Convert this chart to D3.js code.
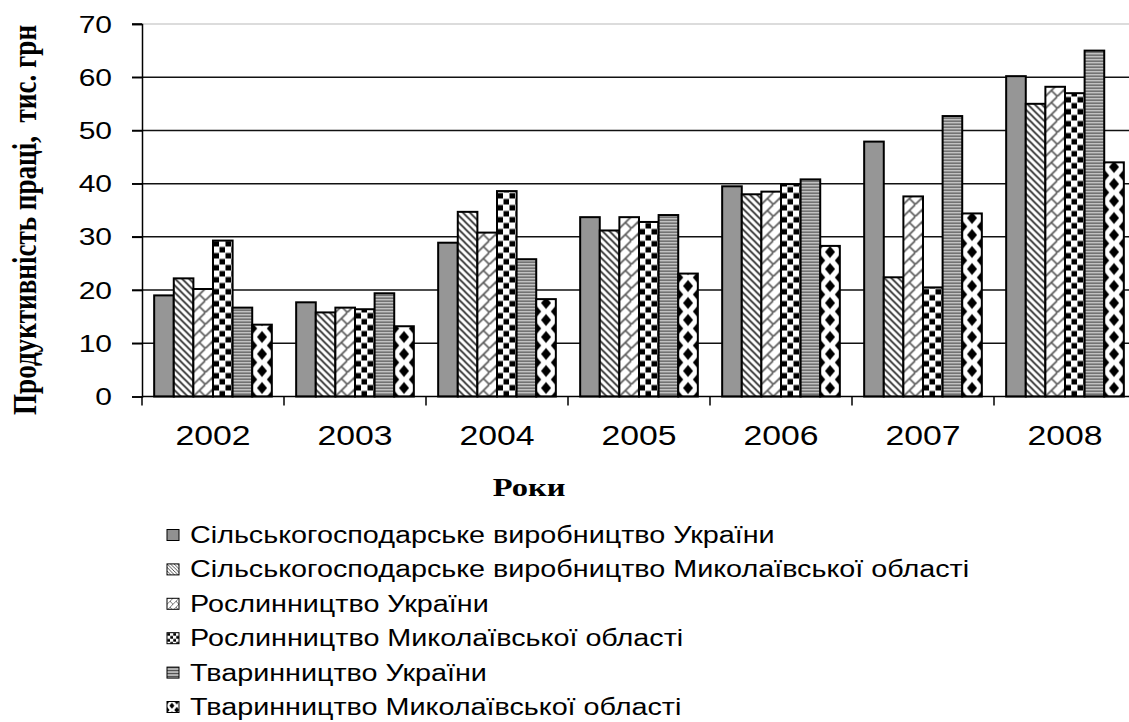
<!DOCTYPE html>
<html>
<head>
<meta charset="utf-8">
<script src="https://cdn.jsdelivr.net/npm/d3@7"></script>
<style>
  body { margin: 0; background: #fff; }
  svg { display: block; font-family: "Liberation Sans", Arial, sans-serif; }
  .serif { font-family: "Liberation Serif", "Times New Roman", serif; font-weight: bold; }
</style>
</head>
<body>
<svg width="1129" height="722"></svg>
<script>
/*****************************************
*   Data
*****************************************/

const years = ['2002', '2003', '2004', '2005', '2006', '2007', '2008'];

const seriesNames = [
    'Сільськогосподарське виробництво України',
    'Сільськогосподарське виробництво Миколаївської області',
    'Рослинництво України',
    'Рослинництво Миколаївської області',
    'Тваринництво України',
    'Тваринництво Миколаївської області'
];

const agroUkraine   = [19.0, 17.7, 28.9, 33.7, 39.5, 47.9, 60.2];
const agroMykolaiv  = [22.2, 15.8, 34.7, 31.2, 38.0, 22.4, 55.0];
const cropUkraine   = [20.2, 16.7, 30.8, 33.7, 38.5, 37.6, 58.2];
const cropMykolaiv  = [29.3, 16.4, 38.6, 32.8, 39.9, 20.5, 57.0];
const stockUkraine  = [16.7, 19.4, 25.8, 34.1, 40.8, 52.7, 65.0];
const stockMykolaiv = [13.5, 13.2, 18.3, 23.1, 28.3, 34.4, 44.0];

const seriesValues = [agroUkraine, agroMykolaiv, cropUkraine, cropMykolaiv, stockUkraine, stockMykolaiv];

const yTicks = [0, 10, 20, 30, 40, 50, 60, 70];

/*****************************************
*   Layout
*****************************************/

const PLOT_LEFT = 142;
const PLOT_RIGHT = 1136;
const PLOT_TOP = 24;
const PLOT_BOTTOM = 396.5;
const STRETCH = 1.25;   // the picture is wider than tall, text too

const svg = d3.select('svg');

var xScale = d3.scaleBand()
    .domain(years)
    .range([PLOT_LEFT, PLOT_RIGHT])
    .padding(0);

var xInner = d3.scaleBand()
    .domain(d3.range(seriesNames.length))
    .range([0, xScale.bandwidth()])
    .paddingInner(0)
    .paddingOuter(0.62);

var yScale = d3.scaleLinear()
    .domain([0, 70])
    .range([PLOT_BOTTOM, PLOT_TOP]);

/*****************************************
*   Hatch patterns
*****************************************/

function build_patterns() {
    var defs = svg.append('defs');

    // 0: fine dark dither
    var p0 = defs.append('pattern').attr('id', 'pat0')
        .attr('patternUnits', 'userSpaceOnUse').attr('width', 2).attr('height', 2);
    p0.append('rect').attr('width', 2).attr('height', 2).attr('fill', '#6e6e6e');
    p0.append('rect').attr('width', 1).attr('height', 1).attr('fill', '#bdbdbd');
    p0.append('rect').attr('x', 1).attr('y', 1).attr('width', 1).attr('height', 1).attr('fill', '#bdbdbd');

    // 1: downward diagonal lines
    var p1 = defs.append('pattern').attr('id', 'pat1')
        .attr('patternUnits', 'userSpaceOnUse').attr('width', 7).attr('height', 7);
    p1.append('rect').attr('width', 7).attr('height', 7).attr('fill', '#fff');
    p1.append('path').attr('d', 'M-2,-2 L9,9 M-2,5 L2,9 M5,-2 L9,2')
        .attr('stroke', '#222').attr('stroke-width', 1.6);

    // 2: diagonal brick
    var p2 = defs.append('pattern').attr('id', 'pat2')
        .attr('patternUnits', 'userSpaceOnUse').attr('width', 12).attr('height', 12);
    p2.append('rect').attr('width', 12).attr('height', 12).attr('fill', '#fff');
    p2.append('path').attr('d', 'M-1,13 L13,-1 M6,6 L12,12')
        .attr('stroke', '#555').attr('stroke-width', 1.6).attr('fill', 'none');

    // 3: checkerboard
    var p3 = defs.append('pattern').attr('id', 'pat3')
        .attr('patternUnits', 'userSpaceOnUse').attr('width', 12).attr('height', 12);
    p3.append('rect').attr('width', 12).attr('height', 12).attr('fill', '#fff');
    p3.append('rect').attr('x', 0.5).attr('y', 0.5).attr('width', 5.5).attr('height', 5.5).attr('fill', '#000');
    p3.append('rect').attr('x', 6.5).attr('y', 6.5).attr('width', 5.5).attr('height', 5.5).attr('fill', '#000');

    // 4: horizontal lines
    var p4 = defs.append('pattern').attr('id', 'pat4')
        .attr('patternUnits', 'userSpaceOnUse').attr('width', 4).attr('height', 3);
    p4.append('rect').attr('width', 4).attr('height', 3).attr('fill', '#e0e0e0');
    p4.append('rect').attr('width', 4).attr('height', 1.4).attr('fill', '#444');

    // 5: diamonds
    var w = xInner.bandwidth(), h = 17;
    var p5 = defs.append('pattern').attr('id', 'pat5')
        .attr('patternUnits', 'userSpaceOnUse').attr('width', w).attr('height', h);
    p5.append('rect').attr('width', w).attr('height', h).attr('fill', '#fff');
    var dx = 5, dy = 6;
    [[w / 2, h / 2], [0, 0], [w, 0], [0, h], [w, h]].forEach(function(c) {
        p5.append('path')
            .attr('d', 'M' + (c[0] - dx) + ',' + c[1] + ' L' + c[0] + ',' + (c[1] - dy) +
                       ' L' + (c[0] + dx) + ',' + c[1] + ' L' + c[0] + ',' + (c[1] + dy) + 'Z')
            .attr('fill', '#000');
    });
}

/*****************************************
*   Grid and axes
*****************************************/

function draw_grid() {
    svg.append('g')
        .selectAll('line')
        .data(yTicks.filter(d => d > 0))
        .enter()
          .append('line')
          .attr('x1', PLOT_LEFT - 10)
          .attr('x2', PLOT_RIGHT)
          .attr('y1', d => yScale(d))
          .attr('y2', d => yScale(d))
          .attr('stroke', d => d == 70 ? '#d0d0d0' : '#111')
          .attr('stroke-width', 1.5);
    // keep the left tick of the top line dark
    svg.append('line')
        .attr('x1', PLOT_LEFT - 10).attr('x2', PLOT_LEFT)
        .attr('y1', yScale(70)).attr('y2', yScale(70))
        .attr('stroke', '#111').attr('stroke-width', 1.5);
}

function draw_axes() {
    var yAxis = d3.axisLeft(yScale)
        .tickValues(yTicks)
        .tickSize(10)
        .tickFormat('');
    svg.append('g')
        .attr('transform', 'translate(' + PLOT_LEFT + ',0)')
        .call(yAxis)
        .call(g => g.selectAll('line, path').attr('stroke', '#000').attr('stroke-width', 1.5));

    svg.append('g')
        .selectAll('text')
        .data(yTicks)
        .enter()
          .append('text')
          .attr('transform', d => 'translate(112,' + (yScale(d) + 8.5) + ') scale(' + STRETCH + ',1)')
          .attr('text-anchor', 'end')
          .attr('font-size', 24)
          .text(d => d);

    // x axis line and category separators
    svg.append('line')
        .attr('x1', PLOT_LEFT).attr('x2', PLOT_RIGHT)
        .attr('y1', PLOT_BOTTOM).attr('y2', PLOT_BOTTOM)
        .attr('stroke', '#000').attr('stroke-width', 1.5);
    svg.append('g')
        .selectAll('line')
        .data(years)
        .enter()
          .append('line')
          .attr('x1', d => xScale(d)).attr('x2', d => xScale(d))
          .attr('y1', PLOT_BOTTOM).attr('y2', PLOT_BOTTOM + 9)
          .attr('stroke', '#000').attr('stroke-width', 1.5);

    svg.append('g')
        .selectAll('text')
        .data(years)
        .enter()
          .append('text')
          .attr('transform', d => 'translate(' + (xScale(d) + xScale.bandwidth() / 2) + ',445) scale(' + STRETCH + ',1)')
          .attr('text-anchor', 'middle')
          .attr('font-size', 27)
          .text(d => d);
}

function add_labels() {
    svg.append('text')
        .attr('class', 'serif')
        .attr('transform', 'translate(529,496) scale(' + STRETCH + ',1)')
        .attr('text-anchor', 'middle')
        .attr('font-size', 26)
        .text('Роки');

    svg.append('text')
        .attr('class', 'serif')
        .attr('transform', 'translate(36,220) scale(' + STRETCH + ',1) rotate(-90)')
        .attr('text-anchor', 'middle')
        .attr('font-size', 27)
        .attr('textLength', 390)
        .attr('lengthAdjust', 'spacingAndGlyphs')
        .text('Продуктивність праці,\u00a0 тис. грн');
}

/*****************************************
*   Bars
*****************************************/

function draw_bars() {
    var rows = [];
    seriesValues.forEach(function(vals, s) {
        vals.forEach(function(v, i) {
            rows.push({year: years[i], series: s, value: v});
        });
    });

    // each bar lives in its own group so the hatch starts at its left edge
    svg.append('g')
        .selectAll('g')
        .data(rows)
        .enter()
          .append('g')
          .attr('transform', d => 'translate(' + (xScale(d.year) + xInner(d.series)) + ',' + PLOT_BOTTOM + ')')
          .append('rect')
          .attr('x', 0)
          .attr('y', d => yScale(d.value) - PLOT_BOTTOM)
          .attr('width', xInner.bandwidth())
          .attr('height', d => PLOT_BOTTOM - yScale(d.value))
          .attr('fill', d => 'url(#pat' + d.series + ')')
          .attr('stroke', '#000')
          .attr('stroke-width', 2);
}

/*****************************************
*   Legend
*****************************************/

function draw_legend() {
    var rowY = d3.scaleLinear().domain([0, 5]).range([535, 707]);
    var items = svg.append('g')
        .selectAll('g')
        .data(seriesNames)
        .enter()
          .append('g');

    items.append('g')
        .attr('transform', (d, i) => 'translate(167,' + (rowY(i) - 5.5) + ') scale(0.5)')
        .append('rect')
        .attr('width', 24)
        .attr('height', 22)
        .attr('fill', (d, i) => 'url(#pat' + i + ')')
        .attr('stroke', '#000')
        .attr('stroke-width', 2);

    items.append('text')
        .attr('transform', (d, i) => 'translate(190,' + (rowY(i) + 8) + ') scale(' + STRETCH + ',1)')
        .attr('font-size', 23)
        .text(d => d);
}

build_patterns();
draw_grid();
draw_bars();
draw_axes();
add_labels();
draw_legend();
</script>
</body>
</html>
